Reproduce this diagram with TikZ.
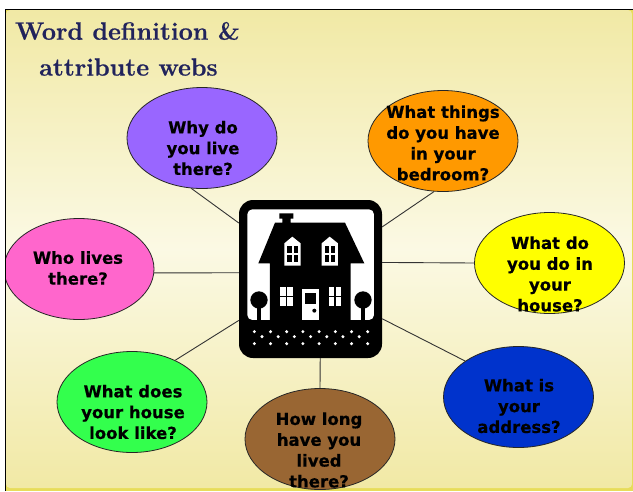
\documentclass[tikz,border=0pt]{standalone}
\usepackage{fontspec}
\usepackage{xcolor}
\setsansfont{DejaVu Sans}[BoldFeatures={FakeBold=0.5}]
\newfontfamily\titlefont{Latin Modern Roman}[BoldFeatures={FakeBold=0.7}]
\usetikzlibrary{shapes.geometric}
\definecolor{panel}{RGB}{241,233,165}
\definecolor{panelmid}{RGB}{251,249,228}
\definecolor{rim}{RGB}{231,221,90}
\definecolor{navy}{RGB}{33,35,92}
\definecolor{whycol}{RGB}{153,102,255}
\definecolor{thingcol}{RGB}{255,153,0}
\definecolor{docol}{RGB}{255,255,0}
\definecolor{addrcol}{RGB}{0,51,204}
\definecolor{longcol}{RGB}{153,102,51}
\definecolor{lookcol}{RGB}{51,255,77}
\definecolor{whocol}{RGB}{255,102,204}
\tikzset{
  bubble/.style={ellipse,draw=black!85,line width=0.8pt,minimum width=150pt,minimum height=101pt,inner sep=0pt},
  bubbletext/.style={align=center,font=\sffamily\bfseries\fontsize{16.5}{20.8}\selectfont,inner sep=0pt},
  titletext/.style={text=navy,anchor=west,inner sep=0pt,font=\titlefont\bfseries\fontsize{25}{30}\selectfont},
  spoke/.style={draw=black!80,line width=0.9pt},
  pane/.style={fill=black},
}
\begin{document}
\begin{tikzpicture}[x=1pt,y=-1pt]
\useasboundingbox (0,0) rectangle (633,491);
% backdrop
\fill[white] (0,0) rectangle (633,491);
\fill[rim] (6,10) rectangle (633,491);
\shade[top color=panel,bottom color=panel,middle color=panelmid,rounded corners=4pt] (6,10) rectangle (632,488);
% title
\node[titletext] (titleone) at (15,31) {Word definition \&};
\node[titletext] (titletwo) at (39,67) {attribute webs};
% bubbles
\begin{scope}
\clip (6,10) rectangle (633,491);
\node[bubble,fill=whycol] (why) at (202,138) {};
\node[bubble,fill=thingcol] (things) at (443,141) {};
\node[bubble,fill=docol] (do) at (549.5,263) {};
\node[bubble,fill=addrcol] (addr) at (518.5,397) {};
\node[bubble,fill=longcol] (long) at (320,439) {};
\node[bubble,fill=lookcol] (look) at (132,402) {};
\node[bubble,fill=whocol] (who) at (79,269) {};
\end{scope}
\draw[black,line width=1.5pt] (5.5,491) -- (5.5,9.5) -- (633,9.5);
\node[bubbletext] (whytext) at (203,148) {Why do\\you live\\there?};
\node[bubbletext] (thingstext) at (443,143) {What things\\do you have\\in your\\bedroom?};
\node[bubbletext] (dotext) at (550,274) {What do\\you do in\\your\\house?};
\node[bubbletext] (addrtext) at (519,406) {What is\\your\\address?};
\node[bubbletext] (longtext) at (319,450) {How long\\have you\\lived\\there?};
\node[bubbletext] (looktext) at (133,412) {What does\\your house\\look like?};
\node[bubbletext] (whotext) at (78,268) {Who lives\\there?};
% house block
\node[fill=black,rounded corners=14pt,minimum width=143pt,minimum height=158pt,inner sep=0pt] (house) at (310.5,279) {};
% spokes
\draw[spoke] (why.258) -- (house.142);
\draw[spoke] (things.260) -- (house.36);
\draw[spoke] (do.180) -- (house.13.5);
\draw[spoke] (addr.146) -- (house.-29.6);
\draw[spoke] (long.north) -- (house.-83.9);
\draw[spoke] (look.44) -- (house.210.8);
\draw[spoke] (who.-3) -- (house.175);
% icon, in thirds of a point
\begin{scope}[shift={(220,180)},x=0.3333pt,y=-0.3333pt]
\fill[white,rounded corners=5pt] (82,88) rectangle (462,420);
\fill[black] (115,250) -- (165,128) -- (187,128) -- (187,116) -- (178,116) -- (178,100)
  -- (220,100) -- (220,116) -- (212,116) -- (212,128) -- (375,128) -- (433,250) -- (392,250)
  -- (392,420) -- (150,420) -- (150,250) -- cycle;
% dormers and panes
\foreach \dx in {0,112}
{
  \fill[white] (193+\dx,190) -- (217+\dx,170) -- (242+\dx,190) -- (242+\dx,257) -- (193+\dx,257) -- cycle;
  \foreach \px in {202,221}
    \foreach \py in {197,225}
      \fill[pane] (\px+\dx,\py) rectangle (\px+13+\dx,\py+21);
}
% lower windows
\foreach \wx in {180,326}
{
  \foreach \px in {0,21}
    \foreach \py in {320,351}
      \fill[white] (\wx+\px,\py) rectangle (\wx+\px+17,\py+27);
}
% door
\fill[white] (245,328) rectangle (298,420);
\fill[black] (255,340) rectangle (287,372);
\fill[black] (283,392) circle[radius=6];
% trees
\foreach \tx in {117,429}
{
  \fill[black] (\tx,360) circle[radius=26];
  \fill[black] (\tx-5,370) rectangle (\tx+5,420);
}
% gravel
\foreach \n in {0,...,7}
{
  \fill[white] (103+48.6*\n,455) circle[radius=5];
  \fill[white] (103+48.6*\n,491) circle[radius=5];
}
\foreach \n in {0,...,6}
  \fill[white] (126+48.6*\n,470) circle[radius=5];
\end{scope}
\end{tikzpicture}
\end{document}
